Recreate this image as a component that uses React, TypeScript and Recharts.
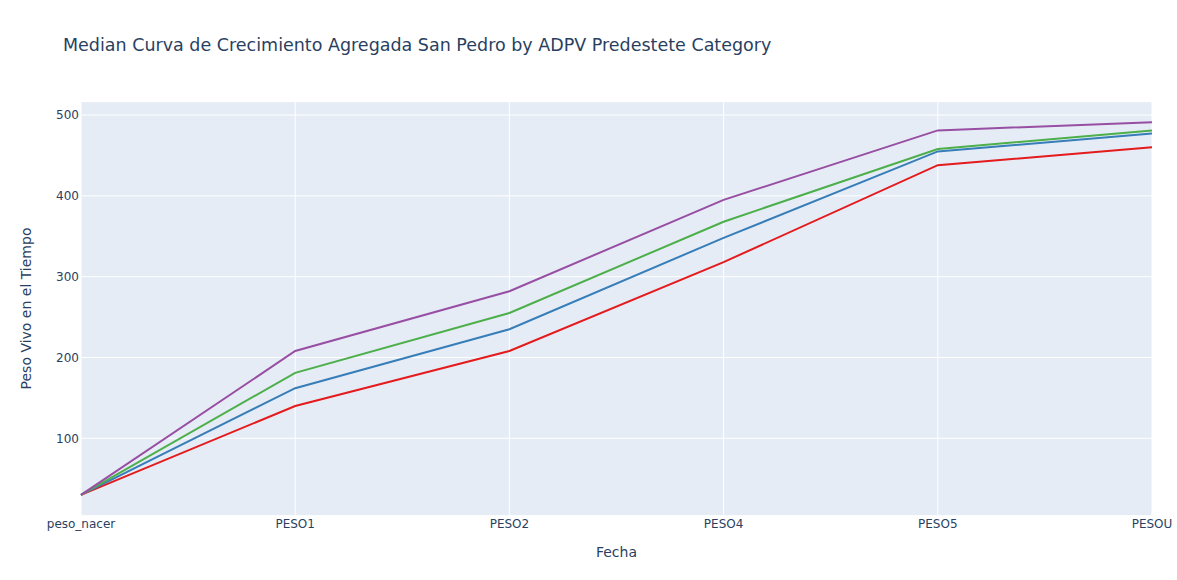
import React from 'react';
import { LineChart, Line, XAxis, YAxis, CartesianGrid } from 'recharts';

const categories = ['peso_nacer', 'PESO1', 'PESO2', 'PESO4', 'PESO5', 'PESOU'];
const seriesNames = ['Bajo', 'Medio-Bajo', 'Medio-Alto', 'Alto'];
const redValues = [30, 140, 208, 318, 438, 460];
const blueValues = [30, 162, 235, 348, 455, 477];
const greenValues = [30, 181, 255, 368, 458, 481];
const purpleValues = [30, 208, 282, 395, 481, 491];
const yTicks = [100, 200, 300, 400, 500];

const seriesValues = [redValues, blueValues, greenValues, purpleValues];
const seriesColors = ['#E41A1C', '#377EB8', '#4DAF4A', '#984EA3'];

const data = categories.map((cat, i) => {
  const row: Record<string, string | number> = { cat };
  seriesNames.forEach((name, s) => {
    row[name] = seriesValues[s][i];
  });
  return row;
});

const FONT = '"DejaVu Sans", Verdana, sans-serif';
const TEXT = '#2a3f5f';

export default function App() {
  return (
    <div style={{ position: 'absolute', left: 0, top: 0, width: 1177, height: 580, background: '#fff' }}>
      <LineChart
        width={1177}
        height={580}
        data={data}
        margin={{ top: 101.7, right: 25, bottom: 34.3, left: 0 }}
      >
        <CartesianGrid stroke="#ffffff" strokeWidth={1} fill="#E5ECF6" />
        <XAxis
          dataKey="cat"
          type="category"
          height={30}
          axisLine={false}
          tickLine={false}
          tickSize={0}
          tickMargin={4}
          interval={0}
          padding={{ left: 0, right: 0 }}
          tick={{ fill: TEXT, fontSize: 12, fontFamily: FONT }}
        />
        <YAxis
          type="number"
          width={81}
          domain={[4.2, 516.5]}
          ticks={yTicks}
          allowDataOverflow
          axisLine={false}
          tickLine={false}
          tickSize={0}
          tickMargin={2}
          tick={{ fill: TEXT, fontSize: 12, fontFamily: FONT }}
        />
        {seriesNames.map((name, s) => (
          <Line
            key={name}
            type="linear"
            dataKey={name}
            stroke={seriesColors[s]}
            strokeWidth={2}
            dot={false}
            activeDot={false}
            isAnimationActive={false}
          />
        ))}
      </LineChart>
      <svg
        width={1177}
        height={580}
        style={{ position: 'absolute', left: 0, top: 0, pointerEvents: 'none' }}
      >
        <text x={63} y={51} fill={TEXT} fontSize={17.5} fontFamily={FONT}>
          Median Curva de Crecimiento Agregada San Pedro by ADPV Predestete Category
        </text>
        <text x={616.5} y={557} fill={TEXT} fontSize={14} fontFamily={FONT} textAnchor="middle">
          Fecha
        </text>
        <text
          x={0}
          y={0}
          transform="translate(31,308.5) rotate(-90)"
          fill={TEXT}
          fontSize={14}
          fontFamily={FONT}
          textAnchor="middle"
        >
          Peso Vivo en el Tiempo
        </text>
      </svg>
    </div>
  );
}
